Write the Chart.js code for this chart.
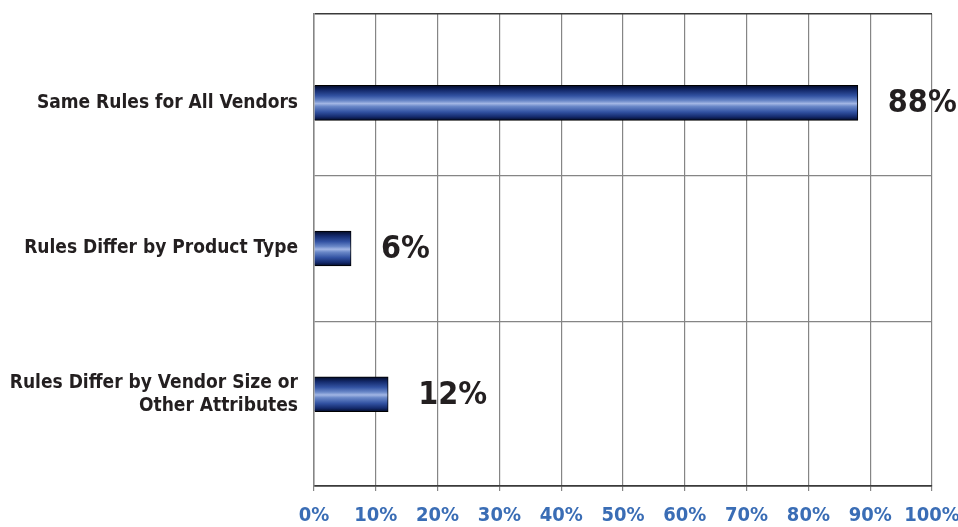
<!DOCTYPE html>
<html>
<head>
<meta charset="utf-8">
<script src="https://cdn.jsdelivr.net/npm/chart.js@4.4.1/dist/chart.umd.min.js"></script>
<style>
    html, body { margin: 0; padding: 0; background: #fff; }
    #wrap { width: 958px; height: 527px; }
</style>
</head>
<body>
<div id="wrap"><canvas id="chart" width="958" height="527"></canvas></div>
<script>
// Данные графика
const categories = [
    'Same Rules for All Vendors',
    'Rules Differ by Product Type',
    ['Rules Differ by Vendor Size or', 'Other Attributes']
];
const values = [88, 6, 12];
const xTicks = [0, 10, 20, 30, 40, 50, 60, 70, 80, 90, 100];

// Границы оси категорий (сверху и снизу остаётся поле)
const yMin = -0.61;
const yMax = 2.63;

const condensed = "'Liberation Sans Narrow', 'DejaVu Sans Condensed', sans-serif";

// Градиент для "цилиндрических" полос
function barGradient(context) {
    const chart = context.chart;
    if (!chart.chartArea || context.dataIndex === undefined) return '#3a5aa8';
    const yScale = chart.scales.y;
    const center = yScale.getPixelForValue(context.dataIndex);
    const half = 17.5;
    const g = chart.ctx.createLinearGradient(0, center - half, 0, center + half);
    g.addColorStop(0.00, '#020a26');
    g.addColorStop(0.14, '#142a6c');
    g.addColorStop(0.30, '#3252a2');
    g.addColorStop(0.44, '#6a88c8');
    g.addColorStop(0.52, '#a2b6e4');
    g.addColorStop(0.60, '#6a88c8');
    g.addColorStop(0.76, '#3252a2');
    g.addColorStop(0.90, '#142a6c');
    g.addColorStop(1.00, '#020a26');
    return g;
}

// Подписи значений справа от полос
const valueLabels = {
    id: 'valueLabels',
    afterDatasetsDraw(chart) {
        const ctx = chart.ctx;
        const meta = chart.getDatasetMeta(0);
        ctx.save();
        ctx.font = "bold 32px " + condensed;
        ctx.fillStyle = '#231f20';
        ctx.textAlign = 'left';
        ctx.textBaseline = 'middle';
        meta.data.forEach((bar, i) => {
            ctx.fillText(values[i] + '%', bar.x + 30, bar.y + 1);
        });
        ctx.restore();
    }
};

new Chart(document.getElementById('chart'), {
    type: 'bar',
    data: {
        datasets: [{
            data: values.map((v, i) => ({ x: v, y: i })),
            backgroundColor: barGradient,
            borderColor: '#000000',
            borderWidth: 1,
            barThickness: 35
        }]
    },
    options: {
        indexAxis: 'y',
        responsive: false,
        animation: false,
        layout: { padding: { top: 14, right: 26, left: 0, bottom: 0 } },
        plugins: {
            legend: { display: false },
            tooltip: { enabled: false }
        },
        scales: {
            x: {
                type: 'linear',
                min: 0,
                max: 100,
                afterBuildTicks: scale => { scale.ticks = xTicks.map(v => ({ value: v })); },
                afterFit: scale => {
                    scale.height = 41;
                    scale.paddingLeft = 0;
                    scale.paddingRight = 0;
                },
                ticks: {
                    autoSkip: false,
                    maxRotation: 0,
                    padding: 13,
                    color: '#3a6db5',
                    font: { family: condensed, size: 20, weight: 'bold' },
                    callback: v => v + '%'
                },
                grid: {
                    color: '#858585',
                    lineWidth: 1.2,
                    drawTicks: true,
                    tickLength: 5
                },
                border: { display: true, color: '#3a3a3a', width: 1.5 }
            },
            y: {
                type: 'linear',
                reverse: true,
                offset: false,
                min: yMin,
                max: yMax,
                afterBuildTicks: scale => {
                    scale.ticks = [yMin, 0, 0.5, 1, 1.5, 2, yMax].map(v => ({ value: v }));
                },
                afterFit: scale => {
                    scale.width = 314;
                    scale.paddingTop = 0;
                    scale.paddingBottom = 0;
                },
                ticks: {
                    autoSkip: false,
                    padding: 16,
                    color: '#231f20',
                    font: { family: condensed, size: 19, weight: 'bold', lineHeight: 1.2 },
                    callback: v => Number.isInteger(v) ? categories[v] : ''
                },
                grid: {
                    offset: false,
                    drawTicks: false,
                    color: c => {
                        const v = c.tick ? c.tick.value : null;
                        if (v === yMin || v === yMax) return '#3a3a3a';
                        if (Number.isInteger(v)) return 'rgba(0,0,0,0)';
                        return '#858585';
                    },
                    lineWidth: c => {
                        const v = c.tick ? c.tick.value : null;
                        return (v === yMin || v === yMax) ? 1.5 : 1.2;
                    }
                },
                border: { display: true, color: '#858585', width: 1.5 }
            }
        }
    },
    plugins: [valueLabels]
});
</script>
</body>
</html>
